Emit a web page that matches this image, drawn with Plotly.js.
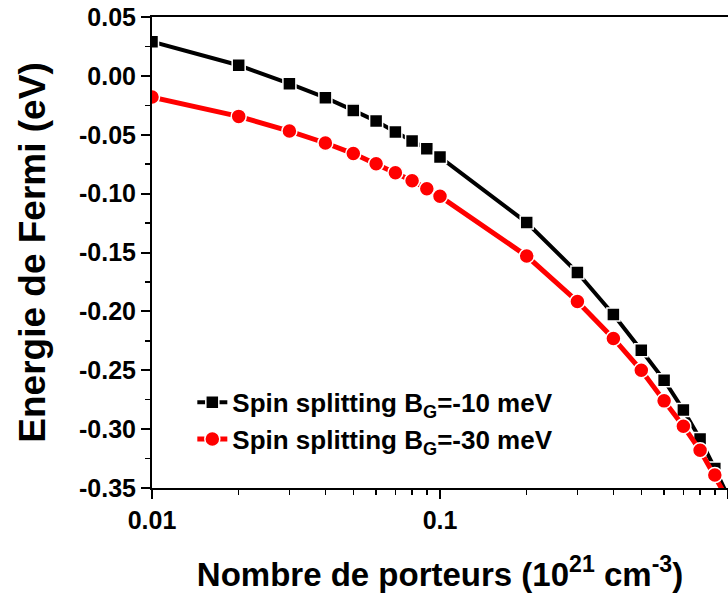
<!DOCTYPE html>
<html><head><meta charset="utf-8">
<script src="https://cdn.plot.ly/plotly-3.0.1.min.js"></script>
<style>body{margin:0;background:#fff}</style>
</head><body>
<div id="chart" style="width:728px;height:598px"></div>
<script>
const carriers = [0.01,0.02,0.03,0.04,0.05,0.06,0.07,0.08,0.09,0.1,0.2,0.3,0.4,0.5,0.6,0.7,0.8,0.9,1.0];
const fermiBG10 = [0.029,0.009,-0.0066,-0.0185,-0.0293,-0.0384,-0.0477,-0.0554,-0.0618,-0.069,-0.1246,-0.167,-0.2026,-0.233,-0.2584,-0.2837,-0.3084,-0.3334,-0.357];
const fermiBG30 = [-0.018,-0.0344,-0.0469,-0.057,-0.066,-0.0746,-0.0822,-0.089,-0.0958,-0.1023,-0.153,-0.1916,-0.223,-0.25,-0.276,-0.2975,-0.318,-0.339,-0.36];
const seriesNames = ['Spin splitting B<sub>G</sub>=-10 meV','Spin splitting B<sub>G</sub>=-30 meV'];
const yTickVals = [0.05,0,-0.05,-0.1,-0.15,-0.2,-0.25,-0.3,-0.35];
const yTickText = ['0.05','0.00','-0.05','-0.10','-0.15','-0.20','-0.25','-0.30','-0.35'];
const xTickVals = [0.01,0.1,1];
const xTickText = ['0.01','0.1','1'];
const xTitle = 'Nombre de porteurs (10<sup>21</sup> cm<sup>-3</sup>)';
const yTitle = 'Energie de Fermi (eV)';

const FONT = 'Liberation Sans, Arial, sans-serif';
const traces = [
  {x: carriers, y: fermiBG10, name: seriesNames[0], mode: 'lines+markers', legendgroup: 'a',
   line: {color: '#000000', width: 4},
   marker: {symbol: 'square', size: 13, color: '#000000', line: {color: '#ffffff', width: 1.5}}},
  {x: carriers, y: fermiBG30, name: seriesNames[1], mode: 'lines+markers', legendgroup: 'b',
   line: {color: '#ff0000', width: 5},
   marker: {symbol: 'circle', size: 15, color: '#ff0000', line: {color: '#ffffff', width: 1.5}}}
];
const layout = {
  width: 728, height: 598,
  margin: {l: 152, r: 0, t: 17, b: 110},
  paper_bgcolor: '#ffffff', plot_bgcolor: '#ffffff',
  font: {family: FONT, color: '#000', size: 20, weight: 'bold'},
  showlegend: true,
  legend: {x: 0.07, y: 0.232, xanchor: 'left', yanchor: 'top', bgcolor: 'rgba(0,0,0,0)',
           font: {family: FONT, size: 26, weight: 'bold', color: '#000'}, tracegroupgap: 0},
  xaxis: {type: 'log', range: [-2, 0], showgrid: false, zeroline: false,
          showline: true, linecolor: '#000', linewidth: 2, mirror: true,
          ticks: 'outside', ticklen: 9, tickwidth: 2, tickcolor: '#000',
          tickvals: xTickVals, ticktext: xTickText,
          tickfont: {family: FONT, size: 25, weight: 'bold'},
          minor: {ticks: 'outside', ticklen: 5, tickwidth: 1.5, tickcolor: '#000', dtick: 'D1', showgrid: false},
          title: {text: xTitle, font: {family: FONT, size: 33, weight: 'bold'}, standoff: 30}},
  yaxis: {range: [-0.35, 0.05], showgrid: false, zeroline: false,
          showline: true, linecolor: '#000', linewidth: 2, mirror: true,
          ticks: 'outside', ticklen: 9, tickwidth: 2, tickcolor: '#000',
          tickvals: yTickVals, ticktext: yTickText,
          tickfont: {family: FONT, size: 25, weight: 'bold'},
          minor: {ticks: 'outside', ticklen: 5, tickwidth: 1.5, tickcolor: '#000', dtick: 0.025, showgrid: false},
          title: {text: yTitle, font: {family: FONT, size: 37, weight: 'bold'}, standoff: 22}}
};
Plotly.newPlot('chart', traces, layout, {displayModeBar: false, staticPlot: true});
</script>
</body></html>
